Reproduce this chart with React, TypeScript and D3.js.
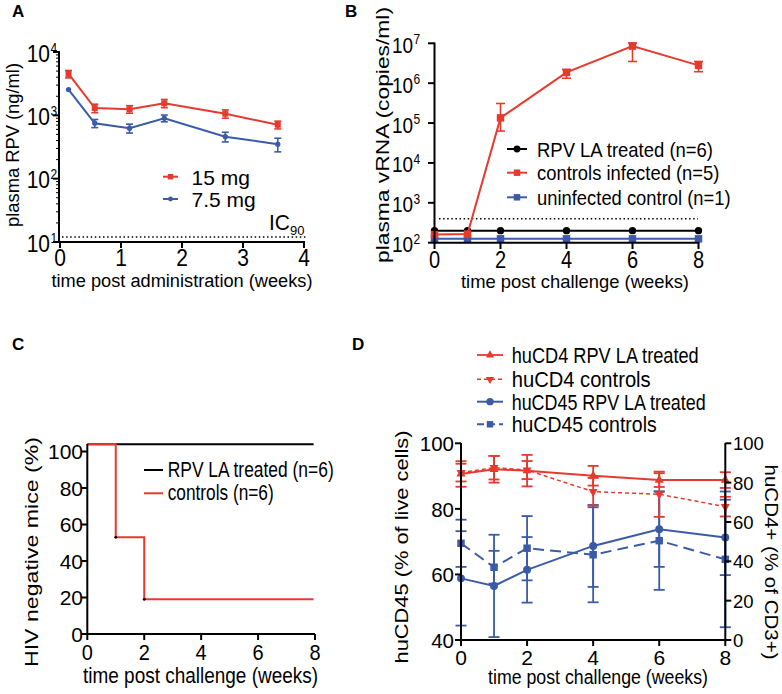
import React from "react";
import * as d3 from "d3";

const FONT = "'Liberation Sans', Arial, Helvetica, sans-serif";
const RED = "#e63a2e";
const BLUE = "#3b5ba8";

// ---- panel A: plasma RPV
const weeksA = [0.14, 0.57, 1.14, 1.71, 2.71, 3.57];
const rpv15 = [4500, 1300, 1250, 1550, 1060, 710];
const rpv15Err = [600, 200, 170, 230, 160, 100];
const rpv75 = [2550, 750, 625, 900, 460, 350];
const rpv75Err = [0, 110, 100, 110, 80, 85];
const ic90 = 12;
const ticksA = [0, 1, 2, 3, 4];
const expA = [1, 2, 3, 4];

// ---- panel B: plasma vRNA
const weeksB = [0, 1, 2, 4, 6, 8];
const vrnaTreated = [200, 200, 200, 200, 200, 200];
const vrnaInfected = [160, 165, 135000, 1860000, 8500000, 2800000];
const vrnaInfectedLo = [160, 165, 63000, 1330000, 3500000, 1940000];
const vrnaInfectedHi = [160, 165, 310000, 2200000, 10200000, 3500000];
const vrnaUninfected = [125, 125, 125, 125, 125, 125];
const detectionLimit = 400;
const ticksB = [0, 2, 4, 6, 8];
const expB = [2, 3, 4, 5, 6, 7];

// ---- panel C: survival
const weeksC = [0, 1, 2, 7.95];
const survTreated = [104, 104, 104, 104];
const survControls = [104, 53, 19, 19];
const ticksCx = [0, 2, 4, 6, 8];
const ticksCy = [0, 20, 40, 60, 80, 100];

// ---- panel D: huCD4 / huCD45
const weeksD = [0, 1, 2, 4, 6, 8];
const cd4Treated = [84.4, 86.8, 86.1, 83.5, 81.3, 81.3];
const cd4TreatedErr = [6.5, 6.8, 8, 5, 3.5, 4];
const cd4Controls = [85.1, 87.6, 86.4, 75.4, 74.1, 67.8];
const cd4ControlsErr = [4.5, 6, 4.6, 7, 11.5, 5];
const cd45Treated = [58.8, 56.5, 61.4, 68.7, 73.8, 71.3];
const cd45TreatedErr = [14.4, 15.6, 10, 12.5, 11.5, 11.5];
const cd45Controls = [69.5, 62.2, 68, 66, 70.3, 64.6];
const cd45ControlsErr = [7.2, 5, 9.8, 14.5, 15, 20.7];
const ticksDx = [0, 2, 4, 6, 8];
const ticksDLeft = [40, 60, 80, 100];
const ticksDRight = [0, 20, 40, 60, 80, 100];

function Txt(p: any) {
  const { x, y, size, anchor = "start", sy = 1, rotate = 0, len, weight, fill = "#000", children } = p;
  return (
    <text
      transform={`translate(${x},${y}) rotate(${rotate}) scale(1,${sy})`}
      fontSize={size}
      textAnchor={anchor}
      fontWeight={weight}
      fill={fill}
      textLength={len}
      lengthAdjust={len ? "spacingAndGlyphs" : undefined}
    >
      {children}
    </text>
  );
}

function ErrBar({ x, y1, y2, cap, color, w = 1.6 }: any) {
  if (Math.abs(y1 - y2) < 0.5) return null;
  return (
    <g stroke={color} strokeWidth={w}>
      <line x1={x} x2={x} y1={y1} y2={y2} />
      <line x1={x - cap} x2={x + cap} y1={y1} y2={y1} />
      <line x1={x - cap} x2={x + cap} y1={y2} y2={y2} />
    </g>
  );
}

const sym = (type: any, size: number) => d3.symbol().type(type).size(size)() as string;

function Marker({ x, y, type, size, color, rot = 0 }: any) {
  return <path d={sym(type, size)} transform={`translate(${x},${y}) rotate(${rot})`} fill={color} />;
}

function PanelA() {
  const x = d3.scaleLinear().domain([0, 4]).range([60, 304]);
  const y = d3.scaleLog().domain([10, 1e4]).range([242, 52]);
  const line = d3.line<number>().x((d, i) => x(weeksA[i])).y((d) => y(d));
  const minor: number[] = [];
  expA.slice(0, 3).forEach((e) => {
    for (let m = 2; m <= 9; m++) minor.push(m * Math.pow(10, e));
  });
  return (
    <g>
      <Txt x={12} y={17} size={17} weight="bold">A</Txt>
      {/* IC90 */}
      <line x1={62} x2={306} y1={y(ic90)} y2={y(ic90)} stroke="#000" strokeWidth={1.5} strokeDasharray="1.5 2.6" />
      <Txt x={290} y={230} size={21} anchor="end" sy={1.05}>IC</Txt>
      <Txt x={290} y={235} size={13}>90</Txt>
      {/* series */}
      <path d={line(rpv75)!} fill="none" stroke={BLUE} strokeWidth={2} />
      <path d={line(rpv15)!} fill="none" stroke={RED} strokeWidth={2} />
      {rpv75.map((v, i) => (
        <g key={"b" + i}>
          <ErrBar x={x(weeksA[i])} y1={y(v + rpv75Err[i])} y2={y(v - rpv75Err[i])} cap={3.5} color={BLUE} />
          <Marker x={x(weeksA[i])} y={y(v)} type={d3.symbolCircle} size={22} color={BLUE} />
        </g>
      ))}
      {rpv15.map((v, i) => (
        <g key={"r" + i}>
          <ErrBar x={x(weeksA[i])} y1={y(v + rpv15Err[i])} y2={y(v - rpv15Err[i])} cap={3.5} color={RED} />
          <Marker x={x(weeksA[i])} y={y(v)} type={d3.symbolSquare} size={36} color={RED} />
        </g>
      ))}
      {/* axes */}
      <g stroke="#000" strokeWidth={2}>
        <line x1={59} x2={59} y1={51} y2={243} />
        <line x1={58} x2={305} y1={242} y2={242} />
        {ticksA.map((t) => <line key={t} x1={x(t)} x2={x(t)} y1={242} y2={248} />)}
        {expA.map((e) => <line key={e} x1={53} x2={59} y1={y(Math.pow(10, e))} y2={y(Math.pow(10, e))} />)}
      </g>
      <g stroke="#000" strokeWidth={1}>
        {minor.map((m) => <line key={m} x1={56} x2={59} y1={y(m)} y2={y(m)} />)}
      </g>
      {ticksA.map((t) => (
        <Txt key={t} x={x(t)} y={266} size={21} sy={1.15} anchor="middle">{t}</Txt>
      ))}
      {expA.map((e) => (
        <g key={e}>
          <Txt x={50} y={y(Math.pow(10, e)) + 9.5} size={21} sy={1.15} anchor="end">10</Txt>
          <Txt x={50.5} y={y(Math.pow(10, e)) + 0.5} size={12} sy={1.15}>{e}</Txt>
        </g>
      ))}
      <Txt x={182} y={287} size={18} anchor="middle" len={261}>time post administration (weeks)</Txt>
      <Txt x={19} y={145} size={18} anchor="middle" rotate={-90} len={164}>plasma RPV (ng/ml)</Txt>
      {/* legend */}
      <line x1={163} x2={178} y1={176.7} y2={176.7} stroke={RED} strokeWidth={2} />
      <Marker x={170.5} y={176.7} type={d3.symbolSquare} size={30} color={RED} />
      <Txt x={191.5} y={184.5} size={21}>15 mg</Txt>
      <line x1={163} x2={178} y1={199} y2={199} stroke={BLUE} strokeWidth={2} />
      <Marker x={170.5} y={199} type={d3.symbolCircle} size={18} color={BLUE} />
      <Txt x={191.5} y={206.5} size={21}>7.5 mg</Txt>
    </g>
  );
}

function PanelB() {
  const x = d3.scaleLinear().domain([0, 8]).range([434.5, 698.5]);
  const y = d3.scaleLog().domain([100, 1e7]).range([242.7, 43.3]);
  const line = d3.line<number>().x((d, i) => x(weeksB[i])).y((d) => y(d));
  return (
    <g>
      <Txt x={345} y={17} size={17} weight="bold">B</Txt>
      <line x1={439} x2={698} y1={y(detectionLimit)} y2={y(detectionLimit)} stroke="#000" strokeWidth={1.5} strokeDasharray="1.5 2.6" />
      <path d={line(vrnaUninfected)!} fill="none" stroke={BLUE} strokeWidth={2} />
      {vrnaUninfected.map((v, i) => (
        <Marker key={i} x={x(weeksB[i])} y={y(v)} type={d3.symbolSquare} size={56} color={BLUE} />
      ))}
      <path d={line(vrnaTreated)!} fill="none" stroke="#000" strokeWidth={2} />
      {vrnaTreated.map((v, i) => (
        <Marker key={i} x={x(weeksB[i])} y={y(v)} type={d3.symbolCircle} size={42} color="#000" />
      ))}
      <path d={line(vrnaInfected)!} fill="none" stroke={RED} strokeWidth={2} />
      {vrnaInfected.map((v, i) => (
        <g key={i}>
          <ErrBar x={x(weeksB[i])} y1={y(vrnaInfectedHi[i])} y2={y(vrnaInfectedLo[i])} cap={4.5} color={RED} />
          <Marker x={x(weeksB[i])} y={y(v)} type={d3.symbolSquare} size={56} color={RED} />
        </g>
      ))}
      <g stroke="#000" strokeWidth={2}>
        <line x1={434.5} x2={434.5} y1={42.5} y2={243.5} />
        <line x1={433.5} x2={699.5} y1={242.7} y2={242.7} />
        {ticksB.map((t) => <line key={t} x1={x(t)} x2={x(t)} y1={242.7} y2={249} />)}
        {expB.map((e) => <line key={e} x1={428} x2={434.5} y1={y(Math.pow(10, e))} y2={y(Math.pow(10, e))} />)}
      </g>
      {ticksB.map((t) => (
        <Txt key={t} x={x(t)} y={268} size={20} sy={1.15} anchor="middle">{t}</Txt>
      ))}
      {expB.map((e) => (
        <g key={e}>
          <Txt x={413} y={y(Math.pow(10, e)) + 9.5} size={19} sy={1.2} anchor="end">10</Txt>
          <Txt x={413.5} y={y(Math.pow(10, e)) + 1} size={12} sy={1.2}>{e}</Txt>
        </g>
      ))}
      <Txt x={575} y={288} size={18.4} anchor="middle" len={228}>time post challenge (weeks)</Txt>
      <Txt x={389} y={135} size={18} anchor="middle" rotate={-90} len={256}>plasma vRNA (copies/ml)</Txt>
      {/* legend */}
      <line x1={507} x2={527} y1={149} y2={149} stroke="#000" strokeWidth={2} />
      <Marker x={517} y={149} type={d3.symbolCircle} size={36} color="#000" />
      <Txt x={537} y={156.5} size={18.4} sy={1.12} len={176}>RPV LA treated (n=6)</Txt>
      <line x1={507} x2={527} y1={172.7} y2={172.7} stroke={RED} strokeWidth={2} />
      <Marker x={517} y={172.7} type={d3.symbolSquare} size={42} color={RED} />
      <Txt x={537} y={180.2} size={18.4} sy={1.12}>controls infected (n=5)</Txt>
      <line x1={507} x2={527} y1={197.3} y2={197.3} stroke={BLUE} strokeWidth={2} />
      <Marker x={517} y={197.3} type={d3.symbolSquare} size={42} color={BLUE} />
      <Txt x={537} y={204.8} size={18.4} sy={1.12}>uninfected control (n=1)</Txt>
    </g>
  );
}

function PanelC() {
  const x = d3.scaleLinear().domain([0, 8]).range([87.3, 315]);
  const y = d3.scaleLinear().domain([0, 100]).range([634, 451.5]);
  const step = d3.line<number>().x((d, i) => x(weeksC[i])).y((d) => y(d)).curve(d3.curveStepAfter);
  return (
    <g>
      <Txt x={12} y={350} size={17} weight="bold">C</Txt>
      <path d={step(survTreated)!} fill="none" stroke="#000" strokeWidth={2} />
      <path d={step(survControls)!} fill="none" stroke={RED} strokeWidth={2} />
      {survControls.slice(1, 3).map((v, i) => (
        <circle key={i} cx={x(weeksC[i + 1])} cy={y(v)} r={1.4} fill="#000" />
      ))}
      <g stroke="#000" strokeWidth={2}>
        <line x1={87.3} x2={87.3} y1={444} y2={635} />
        <line x1={86.3} x2={315} y1={634} y2={634} />
        {ticksCx.map((t) => <line key={t} x1={x(t)} x2={x(t)} y1={634} y2={640} />)}
        {ticksCy.map((t) => <line key={t} x1={81} x2={87.3} y1={y(t)} y2={y(t)} />)}
      </g>
      {ticksCx.map((t) => (
        <Txt key={t} x={x(t)} y={660} size={20} sy={1.08} anchor="middle">{t}</Txt>
      ))}
      {ticksCy.map((t) => (
        <Txt key={t} x={83} y={y(t) + 7.8} size={21} anchor="end">{t}</Txt>
      ))}
      <Txt x={200.5} y={683} size={19} sy={1.12} anchor="middle" len={235}>time post challenge (weeks)</Txt>
      <Txt x={38} y={552} size={19} anchor="middle" rotate={-90} len={230}>HIV negative mice (%)</Txt>
      <line x1={144} x2={163} y1={470} y2={470} stroke="#000" strokeWidth={2} />
      <Txt x={167.7} y={477} size={18} sy={1.18} len={166}>RPV LA treated (n=6)</Txt>
      <line x1={144} x2={163} y1={493.3} y2={493.3} stroke={RED} strokeWidth={2} />
      <Txt x={167.7} y={500.3} size={18} sy={1.18} len={106}>controls (n=6)</Txt>
    </g>
  );
}

function PanelD() {
  const x = d3.scaleLinear().domain([0, 8]).range([461, 725.3]);
  const yl = d3.scaleLinear().domain([40, 100]).range([640, 443.3]);
  const yr = d3.scaleLinear().domain([0, 100]).range([640, 443.3]);
  const mk = (ys: any) => d3.line<number>().x((d, i) => x(weeksD[i])).y((d) => ys(d));
  const series = [
    { vals: cd45Controls, err: cd45ControlsErr, ys: yl, color: BLUE, dash: "11 6", type: d3.symbolSquare, size: 56, rot: 0 },
    { vals: cd45Treated, err: cd45TreatedErr, ys: yl, color: BLUE, dash: undefined, type: d3.symbolCircle, size: 50, rot: 0 },
    { vals: cd4Controls, err: cd4ControlsErr, ys: yr, color: RED, dash: "4 3", type: d3.symbolTriangle, size: 36, rot: 180 },
    { vals: cd4Treated, err: cd4TreatedErr, ys: yr, color: RED, dash: undefined, type: d3.symbolTriangle, size: 36, rot: 0 },
  ];
  const legend = [
    { label: "huCD4 RPV LA treated", len: 187, color: RED, dash: undefined, type: d3.symbolTriangle, rot: 0, size: 30, w: 1.8 },
    { label: "huCD4 controls", len: 139, color: RED, dash: "4 3", type: d3.symbolTriangle, rot: 180, size: 30, w: 1.5 },
    { label: "huCD45 RPV LA treated", len: 194, color: BLUE, dash: undefined, type: d3.symbolCircle, rot: 0, size: 42, w: 2 },
    { label: "huCD45 controls", len: 145, color: BLUE, dash: "7 4", type: d3.symbolSquare, rot: 0, size: 42, w: 2 },
  ];
  const legendY = [355, 379.3, 401.7, 424.3];
  return (
    <g>
      <Txt x={352} y={350} size={17} weight="bold">D</Txt>
      {series.map((s, k) => (
        <g key={k}>
          <path d={mk(s.ys)(s.vals)!} fill="none" stroke={s.color} strokeWidth={s.color === RED && s.dash ? 1.5 : 2} strokeDasharray={s.dash} />
          {s.vals.map((v, i) => (
            <g key={i}>
              <ErrBar x={x(weeksD[i])} y1={s.ys(v + s.err[i])} y2={s.ys(Math.max(v - s.err[i], s.ys.domain()[0]))} cap={5.5} color={s.color} w={1.8} />
              <Marker x={x(weeksD[i])} y={s.ys(v)} type={s.type} size={s.size} color={s.color} rot={s.rot} />
            </g>
          ))}
        </g>
      ))}
      <g stroke="#000" strokeWidth={2}>
        <line x1={461} x2={461} y1={443} y2={641} />
        <line x1={725.3} x2={725.3} y1={443} y2={641} />
        <line x1={460} x2={726.3} y1={640} y2={640} />
        {ticksDx.map((t) => <line key={t} x1={x(t)} x2={x(t)} y1={640} y2={646} />)}
        {ticksDLeft.map((t) => <line key={t} x1={455} x2={461} y1={yl(t)} y2={yl(t)} />)}
        {ticksDRight.map((t) => <line key={t} x1={725.3} x2={731.3} y1={yr(t)} y2={yr(t)} />)}
      </g>
      {ticksDx.map((t) => (
        <Txt key={t} x={x(t)} y={665} size={21} anchor="middle">{t}</Txt>
      ))}
      {ticksDLeft.map((t) => (
        <Txt key={t} x={454} y={yl(t) + 8} size={20.5} anchor="end">{t}</Txt>
      ))}
      {ticksDRight.map((t) => (
        <Txt key={t} x={733} y={yr(t) + 7} size={18.5}>{t}</Txt>
      ))}
      <Txt x={598} y={684} size={18} sy={1.1} anchor="middle" len={220}>time post challenge (weeks)</Txt>
      <Txt x={408} y={547} size={18} anchor="middle" rotate={-90} len={233}>huCD45 (% of live cells)</Txt>
      <Txt x={765} y={562} size={18} anchor="middle" rotate={90} len={195}>huCD4+ (% of CD3+)</Txt>
      {legend.map((l, i) => (
        <g key={i}>
          <line x1={477} x2={503} y1={legendY[i]} y2={legendY[i]} stroke={l.color} strokeWidth={l.w} strokeDasharray={l.dash} />
          <Marker x={490} y={legendY[i]} type={l.type} size={l.size} color={l.color} rot={l.rot} />
          <Txt x={511.7} y={legendY[i] + 8} size={18} sy={1.18} len={l.len}>{l.label}</Txt>
        </g>
      ))}
    </g>
  );
}

export default function App() {
  return (
    <svg
      width={782}
      height={694}
      fontFamily={FONT}
      style={{ position: "absolute", left: 0, top: 0, background: "#fff" }}
    >
      <PanelA />
      <PanelB />
      <PanelC />
      <PanelD />
    </svg>
  );
}
